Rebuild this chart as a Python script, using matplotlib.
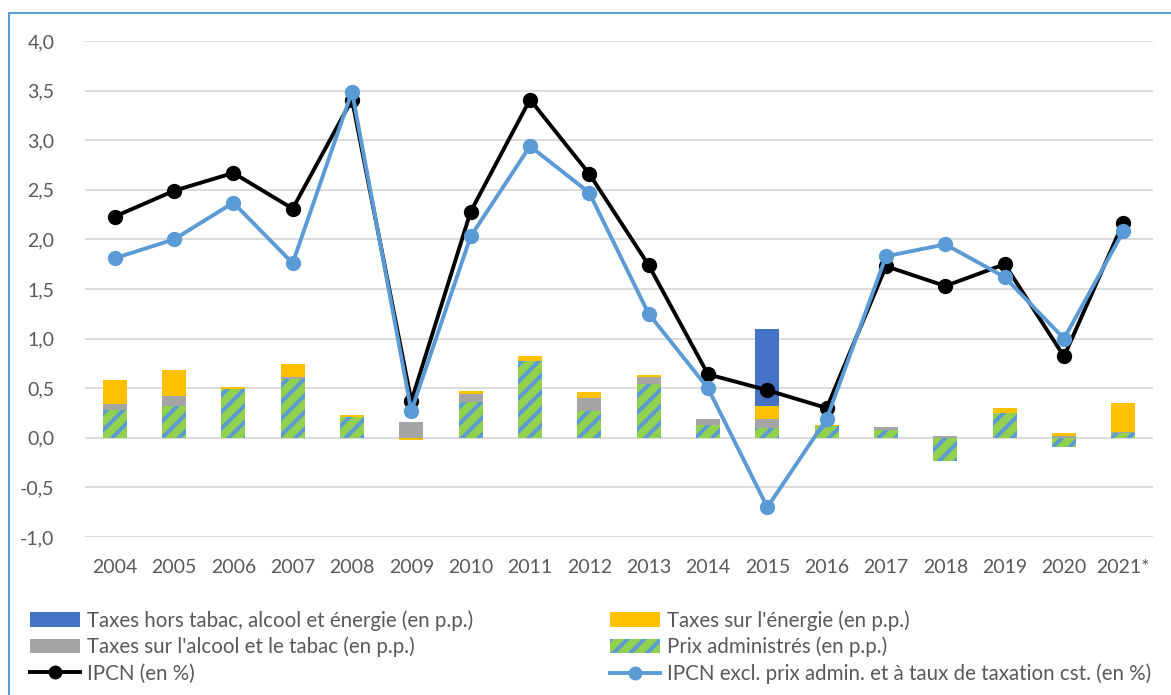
import matplotlib
matplotlib.use("Agg")
import matplotlib.pyplot as plt
from matplotlib.patches import Patch, Rectangle
from matplotlib.lines import Line2D
import numpy as np

years = ["2004", "2005", "2006", "2007", "2008", "2009", "2010", "2011", "2012",
         "2013", "2014", "2015", "2016", "2017", "2018", "2019", "2020", "2021*"]
prix_admin = [0.28, 0.32, 0.49, 0.59, 0.21, 0.00, 0.365, 0.77, 0.27,
              0.54, 0.125, 0.10, 0.115, 0.075, -0.23, 0.255, -0.09, 0.05]
taxes_alcool_tabac = [0.06, 0.10, 0.00, 0.02, 0.00, 0.155, 0.075, 0.00, 0.135,
                      0.075, 0.065, 0.09, 0.00, 0.03, 0.015, 0.00, 0.02, 0.01]
taxes_energie = [0.24, 0.26, 0.025, 0.13, 0.02, -0.02, 0.03, 0.05, 0.055,
                 0.015, 0.00, 0.135, 0.01, 0.00, 0.005, 0.05, 0.03, 0.295]
taxes_autres = [0.0, 0.0, 0.0, 0.0, 0.0, 0.0, 0.0, 0.0, 0.0,
                0.0, 0.0, 0.775, 0.0, 0.0, 0.0, 0.0, 0.0, 0.0]
ipcn = [2.23, 2.49, 2.67, 2.31, 3.41, 0.37, 2.28, 3.41, 2.66,
        1.74, 0.64, 0.48, 0.30, 1.73, 1.53, 1.75, 0.82, 2.17]
ipcn_excl = [1.81, 2.00, 2.37, 1.76, 3.49, 0.27, 2.03, 2.94, 2.47,
             1.25, 0.50, -0.70, 0.19, 1.83, 1.95, 1.62, 1.00, 2.08]
y_ticks = [-1.0, -0.5, 0.0, 0.5, 1.0, 1.5, 2.0, 2.5, 3.0, 3.5, 4.0]

labels = ["Taxes hors tabac, alcool et énergie (en p.p.)",
          "Taxes sur l'énergie (en p.p.)",
          "Taxes sur l'alcool et le tabac (en p.p.)",
          "Prix administrés (en p.p.)",
          "IPCN (en %)",
          "IPCN excl. prix admin. et à taux de taxation cst. (en %)"]

FONT = "Lato"
TXT = "#595959"
C_BLUE = "#4472C4"
C_YEL = "#FFC000"
C_GREY = "#A5A5A5"
C_GREEN = "#92D050"
C_LBLUE = "#5B9BD5"

plt.rcParams["font.family"] = [FONT, "DejaVu Sans"]
plt.rcParams["hatch.linewidth"] = 2.8

W, H = 1171, 695
fig = plt.figure(figsize=(W / 100, H / 100), dpi=100)
fig.patch.set_facecolor("white")

# outer frame
fig.patches.append(Rectangle((9 / W, -0.1), 1.2, 1 - 13 / H + 0.1, transform=fig.transFigure,
                             fill=False, edgecolor="#5B9BD5", linewidth=1.5, zorder=0))

ax = fig.add_axes([85 / W, 1 - 537 / H, (1153 - 85) / W, (537 - 41) / H])
x = np.arange(len(years))

series = [(prix_admin, C_GREEN, "//", C_LBLUE),
          (taxes_alcool_tabac, C_GREY, None, None),
          (taxes_energie, C_YEL, None, None),
          (taxes_autres, C_BLUE, None, None)]
pos_bottom = np.zeros(len(years))
neg_bottom = np.zeros(len(years))
bw = 0.40
for vals, col, hatch, hcol in series:
    v = np.array(vals, dtype=float)
    bottoms = np.where(v >= 0, pos_bottom, neg_bottom)
    if hatch:
        ax.bar(x, v, bw, bottom=bottoms, facecolor=col, hatch=hatch,
               edgecolor=hcol, linewidth=0, zorder=2)
    else:
        ax.bar(x, v, bw, bottom=bottoms, color=col, linewidth=0, zorder=2)
    pos_bottom = pos_bottom + np.where(v >= 0, v, 0)
    neg_bottom = neg_bottom + np.where(v < 0, v, 0)

ax.plot(x, ipcn, color="black", linewidth=2.8, marker="o", markersize=10, zorder=3)
ax.plot(x, ipcn_excl, color=C_LBLUE, linewidth=2.8, marker="o", markersize=10, zorder=4)

ax.set_xlim(-0.5, len(years) - 0.5)
ax.set_ylim(-1.0, 4.0)
ax.set_yticks(y_ticks)
ax.set_yticklabels([f"{t:.1f}".replace(".", ",") for t in y_ticks])
ax.set_xticks(x)
ax.set_xticklabels(years)
ax.tick_params(axis="both", length=0, labelsize=14, labelcolor=TXT)
ax.tick_params(axis="y", pad=22)
ax.tick_params(axis="x", pad=16)
ax.grid(axis="y", color="#D9D9D9", linewidth=1.3, zorder=0)
ax.set_axisbelow(True)
for s in ax.spines.values():
    s.set_visible(False)

h_bar = [Patch(facecolor=C_BLUE, linewidth=0),
         Patch(facecolor=C_GREY, linewidth=0),
         Line2D([], [], color="black", linewidth=2.8, marker="o", markersize=9)]
h_bar2 = [Patch(facecolor=C_YEL, linewidth=0),
          Patch(facecolor=C_GREEN, hatch="//", edgecolor=C_LBLUE, linewidth=0),
          Line2D([], [], color=C_LBLUE, linewidth=2.8, marker="o", markersize=9)]
common = dict(loc="upper left", frameon=False, fontsize=14.8, handlelength=2.45,
              handletextpad=0.3, labelspacing=0.3, borderaxespad=0, borderpad=0,
              labelcolor=TXT)
fig.legend(h_bar, [labels[0], labels[2], labels[4]],
           bbox_to_anchor=(30 / W, 1 - 610 / H), **common)
fig.legend(h_bar2, [labels[1], labels[3], labels[5]],
           bbox_to_anchor=(610 / W, 1 - 610 / H), **common)

fig.savefig("out.png", dpi=100)
